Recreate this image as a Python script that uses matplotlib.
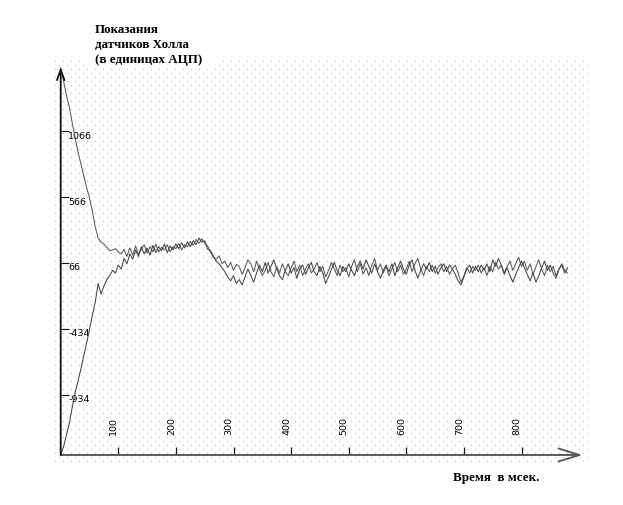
import numpy as np
import matplotlib
matplotlib.use("Agg")
import matplotlib.pyplot as plt
import matplotlib.transforms as mtransforms

step_ms = 5
falling = [
    1550, 1450, 1340, 1250, 1130, 1020, 910, 820, 730, 640,
    560, 460, 340, 255, 225, 210, 185, 160, 165, 175,
    150, 135, 170, 115, 180, 125, 195, 135, 170, 205,
    140, 190, 150, 210, 150, 185, 165, 205, 150, 190,
    175, 215, 165, 205, 190, 230, 200, 245, 215, 250,
    215, 195, 150, 110, 95, 120, 60, 80, 30, 70,
    10, 55, 40, -20, 30, 90, 60, 0, 80, 20,
    -30, 10, 70, 0, -40, 40, -10, 60, 0, -30,
    30, 80, 0, 50, -30, 20, 60, -10, 20, 70,
    0, 40, -40, 10, 70, 20, -30, 50, 0, 30,
    -40, 40, 90, 0, 60, -20, 30, -30, 50, 100,
    10, 60, -10, 40, -30, 20, 70, 0, 50, -20,
    20, 80, 0, 60, 100, 20, -30, 40, 0, 50,
    -10, 30, 60, 0, 40, -20, 20, 50, -10, -80,
    -30, 30, -10, 40, 10, 50, -10, 30, -30, 40,
    0, 70, 20, 50, -10, 40, 80, 10, 60, 110,
    40, 80, 10, 60, -20, 40, 90, 20, -30, 50,
    0, 40, -30, 20, 60, 10, -10,
]
rising = [
    -1390, -1330, -1240, -1150, -1030, -920, -830, -740, -640, -540,
    -440, -330, -230, -90, -170, -110, -60, -30, 10, -10,
    50, 20, 100, 60, 135, 95, 165, 115, 190, 135,
    180, 125, 200, 145, 190, 160, 210, 145, 195, 165,
    210, 175, 220, 180, 225, 190, 235, 205, 255, 225,
    235, 170, 160, 120, 80, 60, 30, 0, -40, -70,
    -30, -90, -60, -100, -40, 20, -30, -80, -10, 50,
    0, 70, -10, 40, 90, 20, -30, -60, 10, 60,
    -10, 30, -50, 20, 50, -20, 30, 70, 0, -30,
    40, -10, -90, -40, 20, 70, 10, -30, 40, 0,
    60, 10, -30, 40, 80, 20, 90, 40, -10, 60,
    0, -50, 10, 50, 0, 60, -30, 30, 80, 20,
    -20, 50, 90, 10, -50, 10, 60, 20, 70, 0,
    40, -20, 30, 60, 0, 50, 20, -20, -70, -100,
    -40, 20, 50, -10, 40, 0, 50, 10, 60, 0,
    90, 40, 100, 50, -20, 30, -30, -80, -20, 30,
    80, 30, -20, -70, -10, -80, -30, 30, 80, 10,
    50, -10, -50, 20, 50, -10, 30,
]
x_ticks = [100, 200, 300, 400, 500, 600, 700, 800]
y_ticks = [-934, -434, 66, 566, 1066]
y_tick_labels = ["-934", "-434", "66", "566", "1066"]
title_lines = ["Показания", "датчиков Холла", "(в единицах АЦП)"]
x_title = "Время  в мсек."

t_fall = np.arange(len(falling)) * step_ms
t_rise = np.arange(len(rising)) * step_ms

W, H = 623, 506
fig = plt.figure(figsize=(W / 100, H / 100), dpi=100)

# background: dotted pattern in pixel coordinates
bg = fig.add_axes([0, 0, 1, 1])
bg.set_xlim(0, W)
bg.set_ylim(H, 0)
bg.axis("off")
img = np.ones((H, W, 3))
yy, xx = np.mgrid[0:H, 0:W]
dots = ((yy % 8 == 2) & (xx % 8 == 3)) | ((yy % 8 == 6) & (xx % 8 == 7))
dots &= (xx >= 54) & (xx <= 588) & (yy >= 60) & (yy <= 465)
dots &= ~((xx >= 84) & (xx <= 216) & (yy < 70))
img[dots] = 0.74
bg.imshow(img, extent=(0, W, H, 0), interpolation="nearest", aspect="auto")

serif = dict(family="Liberation Serif", fontweight="bold", fontsize=9.4, color="black")
for i, line in enumerate(title_lines):
    bg.text(95, 30 + 15 * i, line, ha="left", va="center", **serif)
bg.text(453, 478, x_title, ha="left", va="center", **serif)

# main chart
ax = fig.add_axes([0, 0, 1, 1], facecolor="none")
x0, y0 = 0, -1393
ax.set_xlim(-105.4, 976.2)
ax.set_ylim(-1773, 2072)
for s in ax.spines.values():
    s.set_visible(False)
ax.spines["left"].set_position(("data", x0))
ax.spines["bottom"].set_position(("data", y0))

ax.plot(t_fall, falling, color="#5a5a5a", lw=0.75)
ax.plot(t_rise, rising, color="#454545", lw=0.75)

# axis arrows
ax.annotate("", xy=(906, y0), xytext=(x0, y0),
            arrowprops=dict(arrowstyle="->,head_length=1.5,head_width=0.47",
                            color="#5a5a5a", lw=1.4, shrinkA=0, shrinkB=0))
ax.annotate("", xy=(x0, 1555), xytext=(x0, y0),
            arrowprops=dict(arrowstyle="->,head_length=0.75,head_width=0.27",
                            color="#111111", lw=1.3, shrinkA=0, shrinkB=0))

ax.set_xticks(x_ticks, labels=[str(v) for v in x_ticks])
ax.set_yticks(y_ticks, labels=y_tick_labels)
ax.tick_params(axis="x", direction="in", length=5.8, width=0.9, color="#111111",
               pad=-28, labelsize=6.8, labelrotation=90)
ax.tick_params(axis="y", direction="in", length=5.5, width=0.8, color="#111111",
               pad=-5.5, labelsize=6.8)
shift_x = mtransforms.ScaledTranslation(-0.045, 0, fig.dpi_scale_trans)
for lbl in ax.get_xticklabels():
    lbl.set_transform(lbl.get_transform() + shift_x)
shift_y = mtransforms.ScaledTranslation(0, -0.03, fig.dpi_scale_trans)
for lbl in ax.get_yticklabels():
    lbl.set_ha("left")
    lbl.set_transform(lbl.get_transform() + shift_y)

fig.savefig("out.png", dpi=100)
